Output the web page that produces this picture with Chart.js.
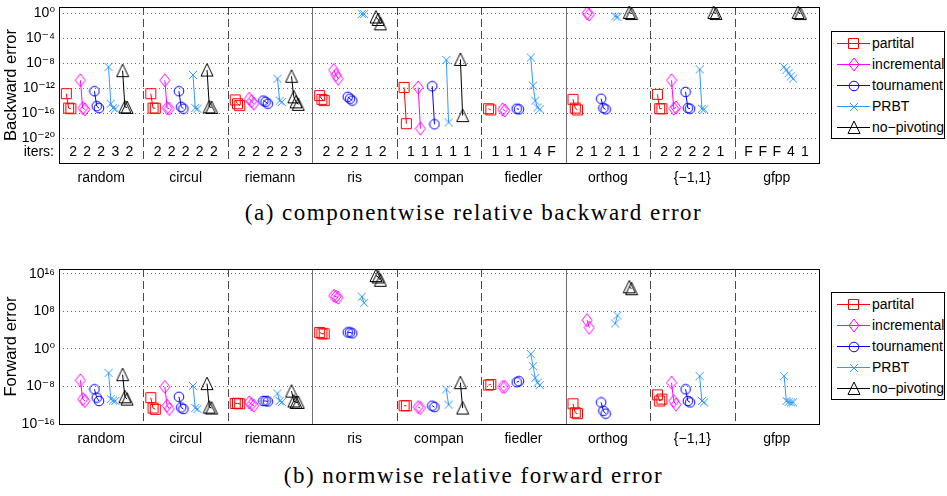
<!DOCTYPE html>
<html>
<head>
<meta charset="utf-8">
<script src="https://cdn.jsdelivr.net/npm/chart.js"></script>
<style>
  html, body { margin: 0; padding: 0; background: #fff; }
  body { width: 947px; height: 496px; position: relative; overflow: hidden;
         font-family: "Liberation Sans", Arial, sans-serif; }
  .plot { position: absolute; left: 0; }
  .legend { position: absolute; left: 831px; width: 114px; height: 108px;
            border: 1px solid #000; box-sizing: border-box; background: #fff; }
  .legend .row { position: absolute; left: 0; width: 100%; height: 21px; }
  .legend canvas { position: absolute; left: 5px; top: 0; }
  .legend span { position: absolute; left: 40px; top: 0; line-height: 21px; font-size: 14px;
                 color: #000; white-space: nowrap; }
  .caption { position: absolute; left: 0; width: 947px; text-align: center; line-height: 23px;
             font-family: "Liberation Serif", "Times New Roman", serif; font-size: 23px;
             letter-spacing: 1.5px; color: #000; }
</style>
</head>
<body>
<canvas id="bwd" class="plot" width="947" height="210" style="top:-13px"></canvas>
<canvas id="fwd" class="plot" width="947" height="209" style="top:249px"></canvas>
<div class="legend" id="legendTop" style="top:31px"></div>
<div class="legend" id="legendBottom" style="top:292px"></div>
<div class="caption" style="top:201px">(a) componentwise relative backward error</div>
<div class="caption" style="top:464px">(b) normwise relative forward error</div>
<script>
// Test matrix families and pivoting strategies
const groups = ['random', 'circul', 'riemann', 'ris', 'compan', 'fiedler', 'orthog', '{\u22121,1}', 'gfpp'];
const methods = ['partital', 'incremental', 'tournament', 'PRBT', 'no\u2212pivoting'];

// Iterative refinement steps per family (rows) and strategy (columns); F = failed
const iters = [
  ['2', '2', '2', '3', '2'],
  ['2', '2', '2', '2', '2'],
  ['2', '2', '2', '2', '3'],
  ['2', '2', '2', '1', '2'],
  ['1', '1', '1', '1', '1'],
  ['1', '1', '1', '4', 'F'],
  ['2', '1', '2', '1', '1'],
  ['2', '2', '2', '2', '1'],
  ['F', 'F', 'F', '4', '1']
];

// Componentwise relative backward error: initial solve, then each refinement step
const bwdPartial = [
  [1.3e-13, 6.3e-16, 5.0e-16],
  [1.3e-13, 6.3e-16, 6.0e-16],
  [1.3e-14, 3.2e-15, 1.6e-15],
  [6.3e-14, 1.6e-14, 1.0e-14],
  [1.3e-12, 2.0e-18],
  [5.0e-16, 3.2e-16],
  [1.6e-14, 6.3e-16, 3.2e-16],
  [1.0e-13, 5.0e-16, 5.0e-16],
  []
];
const bwdIncremental = [
  [1.8e-11, 6.3e-16, 4.0e-16],
  [1.8e-11, 6.3e-16, 5.0e-16],
  [2.0e-14, 7.9e-15, 3.2e-15],
  [7.9e-10, 1.3e-10, 3.2e-11],
  [1.3e-12, 3.2e-19],
  [4.0e-16, 2.5e-16],
  [1.0, 0.6],
  [1.8e-11, 5.0e-16, 7.9e-16],
  []
];
const bwdTournament = [
  [3.2e-13, 1.3e-15, 6.3e-16],
  [3.2e-13, 1.0e-15, 5.0e-16],
  [1.0e-14, 6.3e-15, 3.2e-15],
  [4.0e-14, 2.0e-14, 1.0e-14],
  [2.0e-12, 1.6e-18],
  [5.0e-16, 4.0e-16],
  [2.0e-14, 6.3e-16, 4.0e-16],
  [2.5e-13, 6.3e-16, 5.0e-16],
  []
];
const bwdPRBT = [
  [2.5e-9, 3.2e-15, 6.3e-16, 5.0e-16],
  [1.3e-10, 6.3e-16, 5.0e-16],
  [3.2e-11, 1.0e-14, 6.3e-15],
  [0.8, 0.75],
  [3.2e-8, 3.2e-18],
  [7.9e-8, 2.5e-12, 1.0e-14, 7.9e-16, 4.0e-16],
  [0.32, 0.25],
  [1.0e-9, 5.0e-16, 4.0e-16],
  [2.5e-9, 7.9e-10, 2.5e-10, 7.9e-11, 3.2e-11]
];
const bwdNoPivot = [
  [6.3e-10, 1.0e-15, 7.9e-16],
  [7.9e-10, 1.0e-15, 7.9e-16],
  [7.9e-11, 4.0e-14, 6.3e-15, 2.5e-15],
  [0.25, 0.1, 0.02],
  [4.0e-8, 4.0e-17],
  [],
  [1.3, 0.9],
  [1.3, 0.9],
  [1.3, 0.9]
];

// Normwise relative forward error (values beyond the axis limits fall outside the frame)
const fwdPartial = [
  [2.0e-18, 1.3e-18, 1.0e-18],
  [4.0e-11, 2.5e-13, 1.3e-13],
  [2.5e-12, 2.5e-12, 2.0e-12],
  [3.2e3, 1.6e3, 1.6e3],
  [7.9e-13, 7.9e-13],
  [2.0e-8, 2.5e-8],
  [2.0e-12, 2.5e-14, 1.6e-14],
  [1.6e-10, 7.9e-12, 2.0e-11],
  []
];
const fwdIncremental = [
  [2.0e-7, 2.0e-11, 7.9e-12],
  [7.9e-9, 7.9e-13, 1.6e-13],
  [4.0e-12, 1.6e-12, 7.9e-13],
  [2.0e11, 1.3e11, 7.9e10],
  [4.0e-13, 2.5e-13],
  [7.9e-9, 7.9e-9],
  [1.3e6, 3.2e4],
  [6.3e-8, 7.9e-12, 1.3e-12],
  []
];
const fwdTournament = [
  [2.5e-9, 4.0e-11, 7.9e-12],
  [6.3e-11, 3.2e-13, 1.6e-13],
  [7.9e-12, 7.9e-12, 6.3e-12],
  [3.2e3, 3.2e3, 2.0e3],
  [7.9e-13, 4.0e-13],
  [7.9e-8, 1.3e-7],
  [4.0e-12, 6.3e-14, 1.6e-14],
  [2.5e-9, 7.9e-12, 4.0e-12],
  []
];
const fwdPRBT = [
  [7.9e-6, 2.0e-11, 1.0e-11, 7.9e-12],
  [1.3e-8, 2.5e-13, 1.6e-13],
  [3.2e-10, 7.9e-12, 5.0e-12],
  [1.3e11, 6.3e9],
  [2.5e-9, 1.3e-12],
  [7.9e-2, 2.0e-4, 6.3e-7, 6.3e-8, 2.0e-8],
  [2.5e5, 1.3e7],
  [1.6e-6, 7.9e-12, 4.0e-12],
  [1.6e-6, 7.9e-12, 5.0e-12, 4.0e-12, 4.0e-12]
];
const fwdNoPivot = [
  [3.2e-6, 6.3e-11, 2.0e-11],
  [4.0e-8, 4.0e-13, 2.5e-13],
  [1.0e-9, 7.9e-12, 4.0e-12, 4.0e-12],
  [4.0e15, 2.0e15, 4.0e14],
  [6.3e-8, 2.5e-13],
  [],
  [1.6e13, 6.3e12],
  [1.0e19, 1.0e19],
  [1.0e19, 1.0e19]
];

// Axis ticks
const bwdTicks = [1e-20, 1e-16, 1e-12, 1e-8, 1e-4, 1];
const fwdTicks = [1e-16, 1e-8, 1, 1e8, 1e16];
const itersLevel = 5e-23;

const FONT = '"Liberation Sans", Arial, "DejaVu Sans", sans-serif';
const colors = ['#ff0000', '#ff00ff', '#0000ff', '#3399ff', '#000000'];
const shapes = ['square', 'diamond', 'circle', 'cross', 'triangle'];

// Hollow marker glyphs drawn once and used as point styles
function markerCanvas(shape, color) {
  const dims = { square: [13, 13], diamond: [12, 15], circle: [12, 12], cross: [10, 10], triangle: [14, 15] }[shape];
  const c = document.createElement('canvas');
  c.width = dims[0]; c.height = dims[1];
  const g = c.getContext('2d');
  const w = c.width, h = c.height;
  g.strokeStyle = color; g.lineWidth = 1;
  g.beginPath();
  if (shape === 'square') g.rect(1.5, 1.5, w - 3, h - 3);
  if (shape === 'diamond') { g.moveTo(w / 2, 1); g.lineTo(w - 1, h / 2); g.lineTo(w / 2, h - 1); g.lineTo(1, h / 2); g.closePath(); }
  if (shape === 'circle') g.arc(w / 2, h / 2, w / 2 - 1.2, 0, Math.PI * 2);
  if (shape === 'cross') { g.moveTo(1, 1); g.lineTo(w - 1, h - 1); g.moveTo(w - 1, 1); g.lineTo(1, h - 1); }
  if (shape === 'triangle') { g.moveTo(w / 2, 1); g.lineTo(w - 1, h - 1.5); g.lineTo(1, h - 1.5); g.closePath(); }
  g.stroke();
  return c;
}
const markers = shapes.map((s, i) => markerCanvas(s, colors[i]));

// Each strategy sits in its own slot inside a family; refinement steps drift right
function seriesPoints(vals, m) {
  const pts = [];
  vals.forEach((list, g) => {
    const slot = 6 * g + m + 1;
    list.forEach((v, s) => pts.push({ x: slot - 0.48 + 0.16 * s, y: v }));
    pts.push({ x: slot, y: null });
  });
  return pts;
}

function datasets(arrays, clip) {
  return arrays.map((vals, m) => ({
    label: methods[m],
    data: seriesPoints(vals, m),
    showLine: true,
    spanGaps: false,
    tension: 0,
    borderColor: colors[m],
    backgroundColor: colors[m],
    borderWidth: 1,
    pointStyle: markers[m],
    pointRadius: 6,
    pointHoverRadius: 6,
    pointBorderWidth: 0,
    clip: clip
  }));
}

const SUP = { '-': '\u207B', '0': '\u2070', '1': '\u00B9', '2': '\u00B2', '3': '\u00B3', '4': '\u2074',
              '5': '\u2075', '6': '\u2076', '7': '\u2077', '8': '\u2078', '9': '\u2079' };
function powerLabel(v) {
  const e = String(Math.round(Math.log10(v)));
  return '10' + e.split('').map(ch => SUP[ch]).join('');
}

// Family separators, frame and refinement counts
const framePlugin = {
  id: 'frame',
  beforeDatasetsDraw(chart) {
    const { ctx, chartArea: a, scales: { x } } = chart;
    ctx.save();
    for (let k = 1; k < groups.length; k++) {
      const px = Math.round(x.getPixelForValue(6 * k)) + 0.5;
      const solid = k % 3 === 0;
      ctx.strokeStyle = solid ? '#6e6e6e' : '#4a4a4a';
      ctx.lineWidth = 1;
      ctx.setLineDash(solid ? [] : [8, 4]);
      ctx.beginPath();
      ctx.moveTo(px, a.top);
      ctx.lineTo(px, a.bottom);
      ctx.stroke();
    }
    ctx.restore();
  },
  afterDatasetsDraw(chart, args, opts) {
    const { ctx, chartArea: a, scales: { x, y } } = chart;
    ctx.save();
    ctx.strokeStyle = '#000';
    ctx.lineWidth = 1;
    ctx.setLineDash([]);
    ctx.strokeRect(Math.round(a.left) + 0.5, Math.round(a.top) + 0.5,
                   Math.round(a.right - a.left), Math.round(a.bottom - a.top));
    if (opts.iters) {
      ctx.font = '14px ' + FONT;
      ctx.fillStyle = '#000';
      ctx.textBaseline = 'middle';
      const py = y.getPixelForValue(itersLevel);
      ctx.textAlign = 'right';
      ctx.fillText('iters:', a.left - 5, py);
      ctx.textAlign = 'center';
      iters.forEach((row, g) => row.forEach((t, m) => {
        ctx.fillText(t, x.getPixelForValue(6 * g + m + 1), py);
      }));
    }
    ctx.restore();
  }
};

function makeChart(id, arrays, yMin, yMax, ticks, title, withIters, clip) {
  return new Chart(document.getElementById(id), {
    type: 'scatter',
    data: { datasets: datasets(arrays, clip) },
    plugins: [framePlugin],
    options: {
      responsive: false,
      animation: false,
      events: [],
      layout: { padding: { top: 20, right: 128, bottom: 4, left: 0 } },
      plugins: {
        legend: { display: false },
        tooltip: { enabled: false },
        frame: { iters: withIters }
      },
      scales: {
        x: {
          type: 'linear', min: 0, max: 6 * groups.length,
          afterBuildTicks: s => { s.ticks = groups.map((_, i) => ({ value: 6 * i + 3 })); },
          afterFit: s => { s.height = 30; },
          ticks: { callback: (v, i) => groups[i], autoSkip: false, maxRotation: 0,
                   color: '#000', padding: 7, font: { family: FONT, size: 14 } },
          grid: { display: false, drawTicks: false },
          border: { display: false }
        },
        y: {
          type: 'logarithmic', min: yMin, max: yMax,
          afterBuildTicks: s => { s.ticks = ticks.map(v => ({ value: v })); },
          afterFit: s => { s.width = 59; },
          ticks: { callback: v => powerLabel(v), color: '#000', padding: 4,
                   font: { family: FONT, size: 14 } },
          grid: { color: 'rgba(0,0,0,0.6)', lineWidth: 1, drawTicks: false },
          border: { display: false, dash: [1, 3] },
          title: { display: true, text: title, color: '#000', padding: { top: 2, bottom: 0 },
                   font: { family: FONT, size: 16.5 } }
        }
      }
    }
  });
}

makeChart('bwd', [bwdPartial, bwdIncremental, bwdTournament, bwdPRBT, bwdNoPivot],
          1e-24, 10, bwdTicks, 'Backward error', true, { left: 0, top: 10, right: 0, bottom: 0 });
makeChart('fwd', [fwdPartial, fwdIncremental, fwdTournament, fwdPRBT, fwdNoPivot],
          1e-16, 1e17, fwdTicks, 'Forward error', false, 0);

// Legend boxes: line sample with marker, then the strategy name
function buildLegend(id) {
  const box = document.getElementById(id);
  methods.forEach((name, m) => {
    const row = document.createElement('div');
    row.className = 'row';
    row.style.top = (1 + 21 * m) + 'px';
    const c = document.createElement('canvas');
    c.width = 33; c.height = 21;
    const g = c.getContext('2d');
    g.strokeStyle = colors[m];
    g.lineWidth = 1;
    g.beginPath(); g.moveTo(0, 10.5); g.lineTo(33, 10.5); g.stroke();
    const mk = markers[m];
    g.drawImage(mk, Math.round(16.5 - mk.width / 2), Math.round(10.5 - mk.height / 2));
    const label = document.createElement('span');
    label.textContent = name;
    row.appendChild(c);
    row.appendChild(label);
    box.appendChild(row);
  });
}
buildLegend('legendTop');
buildLegend('legendBottom');
</script>
</body>
</html>
